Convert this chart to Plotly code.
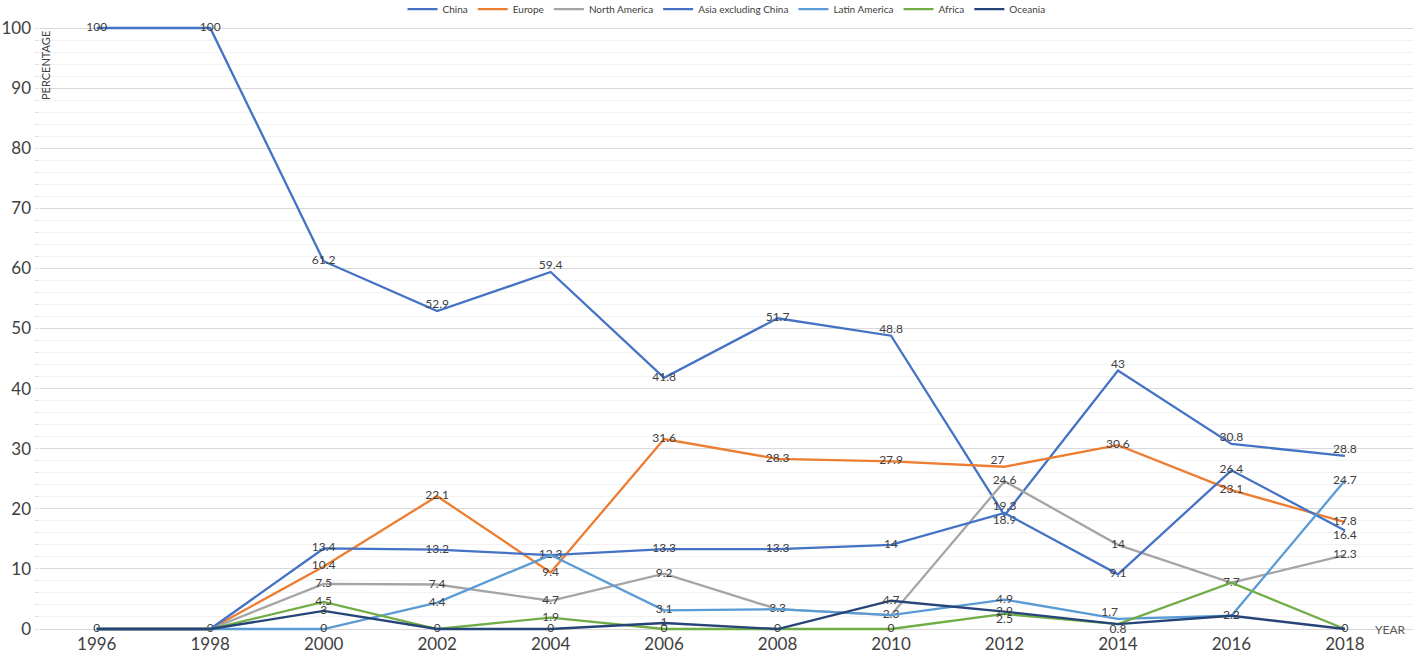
import plotly.graph_objects as go

years = [1996, 1998, 2000, 2002, 2004, 2006, 2008, 2010, 2012, 2014, 2016, 2018]

series_names = ["China", "Europe", "North America", "Asia excluding China",
                "Latin America", "Africa", "Oceania"]

china = [100, 100, 61.2, 52.9, 59.4, 41.8, 51.7, 48.8, 18.9, 43, 30.8, 28.8]
europe = [0, 0, 10.4, 22.1, 9.4, 31.6, 28.3, 27.9, 27, 30.6, 23.1, 17.8]
north_america = [0, 0, 7.5, 7.4, 4.7, 9.2, 3.3, 2.3, 24.6, 14, 7.7, 12.3]
asia_ex_china = [0, 0, 13.4, 13.2, 12.3, 13.3, 13.3, 14, 19.3, 9.1, 26.4, 16.4]
latin_america = [0, 0, 0, 4.4, 12.3, 3.1, 3.3, 2.3, 4.9, 1.7, 2.2, 24.7]
africa = [0, 0, 4.5, 0, 1.9, 0, 0, 0, 2.5, 0.8, 7.7, 0]
oceania = [0, 0, 3, 0, 0, 1, 0, 4.7, 2.9, 0.8, 2.2, 0]

values = [china, europe, north_america, asia_ex_china, latin_america, africa, oceania]

colors = ["#4472C4", "#ED7D31", "#A5A5A5", "#4472C4", "#5B9BD5", "#70AD47", "#264478"]

MC, TC, BC, TL = "middle center", "top center", "bottom center", "top left"
positions = [
    [MC, MC, MC, TC, TC, MC, MC, TC, BC, TC, TC, TC],
    [MC, MC, MC, MC, MC, MC, MC, MC, TL, MC, MC, MC],
    [MC, MC, MC, MC, MC, MC, MC, MC, MC, MC, MC, MC],
    [MC, MC, MC, MC, MC, MC, MC, MC, TC, MC, MC, BC],
    [MC, MC, MC, MC, MC, MC, MC, MC, MC, TL, MC, MC],
    [MC, MC, MC, MC, MC, MC, MC, MC, BC, BC, MC, MC],
    [MC, MC, MC, MC, MC, MC, MC, MC, MC, BC, MC, MC],
]

# labels: a value that coincides with one already shown at the same year is shown once
seen = set()
labels = []
for vals in values:
    row = []
    for x, v in zip(years, vals):
        key = (x, v)
        if key in seen:
            row.append("")
        else:
            seen.add(key)
            row.append(f"{v:g}")
    labels.append(row)

FONT = "Lato"
fig = go.Figure()
for name, vals, col, pos, txt in zip(series_names, values, colors, positions, labels):
    fig.add_trace(go.Scatter(
        x=years, y=vals, name=name, mode="lines+text",
        line=dict(color=col, width=2.3),
        text=txt,
        textposition=pos,
        textfont=dict(family=FONT, size=12, color="#404040"),
        cliponaxis=False,
    ))

fig.update_layout(
    width=1415, height=656,
    margin=dict(l=40, r=2, t=25, b=24, autoexpand=False),
    paper_bgcolor="white", plot_bgcolor="white",
    font=dict(family=FONT, color="#404040"),
    showlegend=True,
    legend=dict(orientation="h", x=0.5, xanchor="center", y=1.05, yref="paper",
                yanchor="top", font=dict(size=10, color="#404040"), itemwidth=30,
                bgcolor="rgba(0,0,0,0)", tracegroupgap=0),
    xaxis=dict(range=[1995.0, 2019.2], tickmode="array", tickvals=years,
               ticktext=[str(y) for y in years], showgrid=False, zeroline=False,
               showline=False, ticks="", tickfont=dict(size=17, color="#404040")),
    yaxis=dict(range=[-0.5, 100.5], tickmode="array", tickvals=list(range(0, 101, 10)),
               showgrid=True, gridcolor="#D9D9D9", gridwidth=1, zeroline=False,
               showline=False, ticks="", tickfont=dict(size=17, color="#404040"),
               ticklabelstandoff=8,
               minor=dict(dtick=2, tick0=0, showgrid=True, gridcolor="#F2F2F2",
                          ticks="outside", ticklen=4, tickcolor="#E0E0E0")),
    annotations=[
        dict(text="PERCENTAGE", xref="paper", yref="paper", x=0.0, y=1.0,
             xanchor="left", yanchor="top", textangle=-90, showarrow=False,
             font=dict(size=11, color="#404040"), xshift=-3, yshift=-4),
        dict(text="YEAR", xref="x", yref="y", x=2018.5, y=0, xanchor="left",
             yanchor="middle", showarrow=False, font=dict(size=12, color="#595959")),
    ],
)

fig.write_html(
    "out.html",
    config={"displayModeBar": False},
    post_script="document.body.style.margin='0';document.body.style.overflow='hidden';",
)
